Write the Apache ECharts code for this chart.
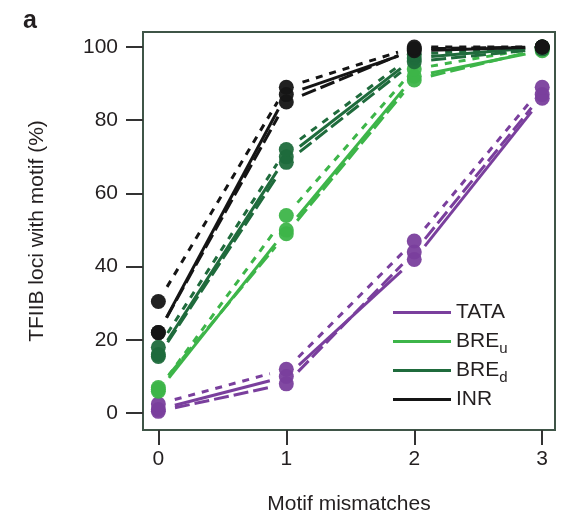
<!DOCTYPE html>
<html>
<head>
<meta charset="utf-8">
<script src="https://cdn.jsdelivr.net/npm/echarts@6/dist/echarts.min.js"></script>
<style>
  html, body { margin: 0; padding: 0; background: #fff; }
  #main { width: 561px; height: 516px; }
</style>
</head>
<body>
<div id="main"></div>
<script>
  // mismatches on x, percent of loci on y
  const mismatches = [0, 1, 2, 3];
  const tickValuesX = [0, 1, 2, 3];
  const tickValuesY = [0, 20, 40, 60, 80, 100];

  const tataSolid = [1, 10, 42, 86];
  const tataLong = [0.5, 8, 44, 87];
  const tataShort = [2.5, 12, 47, 89];

  const breuSolid = [6, 50, 92, 99];
  const breuLong = [7, 49, 91, 99.5];
  const breuShort = [6.5, 54, 94, 100];

  const bredSolid = [16, 70, 97, 100];
  const bredLong = [15.5, 68.5, 96, 99.5];
  const bredShort = [18, 72, 98, 100];

  const inrSolid = [22, 87, 99, 100];
  const inrLong = [22, 85, 99.5, 100];
  const inrShort = [30.5, 89, 100, 100];

  const groups = [
    { name: 'TATA', color: '#7a3f9d', sets: [tataSolid, tataLong, tataShort] },
    { name: 'BREu', color: '#3db549', sets: [breuSolid, breuLong, breuShort] },
    { name: 'BREd', color: '#1f6b3c', sets: [bredSolid, bredLong, bredShort] },
    { name: 'INR', color: '#151515', sets: [inrSolid, inrLong, inrShort] }
  ];
  const dashes = ['solid', [15, 5], [7, 7]];

  let chart = echarts.init(document.getElementById('main'));

  // segments between neighbouring points, lines stop short of the dots
  function segments(vals) {
    let out = [];
    for (let i = 0; i < mismatches.length - 1; i++) {
      out.push([mismatches[i], vals[i], mismatches[i + 1], vals[i + 1]]);
    }
    return out;
  }

  function lineSeries(name, color, vals, dash) {
    return {
      name: name,
      type: 'custom',
      itemStyle: { color: color },
      encode: { x: [0, 2], y: [1, 3] },
      data: segments(vals),
      z: 2,
      renderItem: function (params, api) {
        let p0 = api.coord([api.value(0), api.value(1)]);
        let p1 = api.coord([api.value(2), api.value(3)]);
        let dx = p1[0] - p0[0], dy = p1[1] - p0[1];
        let k = 17 / Math.sqrt(dx * dx + dy * dy);
        return {
          type: 'line',
          shape: { x1: p0[0] + dx * k, y1: p0[1] + dy * k, x2: p1[0] - dx * k, y2: p1[1] - dy * k },
          style: { stroke: color, lineWidth: 3, lineDash: dash === 'solid' ? null : dash }
        };
      }
    };
  }

  let series = [];
  groups.forEach(function (g) {
    g.sets.forEach(function (vals, i) {
      series.push(lineSeries(g.name, g.color, vals, dashes[i]));
    });
  });
  groups.forEach(function (g) {
    g.sets.forEach(function (vals) {
      series.push({
        name: g.name + ' pts',
        type: 'scatter',
        symbol: 'circle',
        symbolSize: 15,
        itemStyle: { color: g.color, opacity: 0.95 },
        z: 3,
        data: mismatches.map((m, i) => [m, vals[i]])
      });
    });
  });

  let axisText = { fontFamily: 'Liberation Sans, Arial, sans-serif', fontSize: 21, color: '#231f20' };

  let option = {
    animation: false,
    title: {
      text: 'a',
      left: 18,
      top: 4,
      textStyle: { fontFamily: 'Liberation Sans, Arial, sans-serif', fontSize: 25, fontWeight: 'bold', color: '#231f20' }
    },
    grid: {
      left: 143, right: 6, top: 32, bottom: 86,
      outerBoundsMode: 'none',
      containLabel: false,
      show: true,
      borderColor: '#3f5547',
      borderWidth: 2
    },
    legend: {
      orient: 'vertical',
      left: 393,
      top: 298,
      padding: 0,
      itemGap: 0,
      itemWidth: 58,
      itemHeight: 3,
      icon: 'rect',
      data: ['TATA', 'BREu', 'BREd', 'INR'],
      formatter: function (name) {
        if (name === 'BREu') return 'BRE{sub|u}';
        if (name === 'BREd') return 'BRE{sub|d}';
        return name;
      },
      textStyle: {
        fontFamily: 'Liberation Sans, Arial, sans-serif',
        fontSize: 21,
        lineHeight: 29,
        color: '#231f20',
        rich: {
          sub: { fontSize: 15, lineHeight: 13, verticalAlign: 'bottom', color: '#231f20' }
        }
      }
    },
    xAxis: {
      type: 'value',
      min: -0.12,
      max: 3.1,
      name: 'Motif mismatches',
      nameLocation: 'middle',
      nameGap: 64,
      nameTextStyle: { fontFamily: 'Liberation Sans, Arial, sans-serif', fontSize: 21, color: '#231f20' },
      splitLine: { show: false },
      axisLine: { show: false, onZero: false },
      axisTick: { show: true, length: 15, customValues: tickValuesX, lineStyle: { color: '#333', width: 2 } },
      axisLabel: Object.assign({ customValues: tickValuesX, margin: 19 }, axisText)
    },
    yAxis: {
      type: 'value',
      min: -4.6,
      max: 104.1,
      name: 'TFIIB loci with motif (%)',
      nameLocation: 'middle',
      nameGap: 95,
      nameTextStyle: { fontFamily: 'Liberation Sans, Arial, sans-serif', fontSize: 21, color: '#231f20' },
      splitLine: { show: false },
      axisLine: { show: false, onZero: false },
      axisTick: { show: true, length: 17, customValues: tickValuesY, lineStyle: { color: '#333', width: 2 } },
      axisLabel: Object.assign({ customValues: tickValuesY, margin: 25 }, axisText)
    },
    series: series
  };
  chart.setOption(option);
</script>
</body>
</html>
